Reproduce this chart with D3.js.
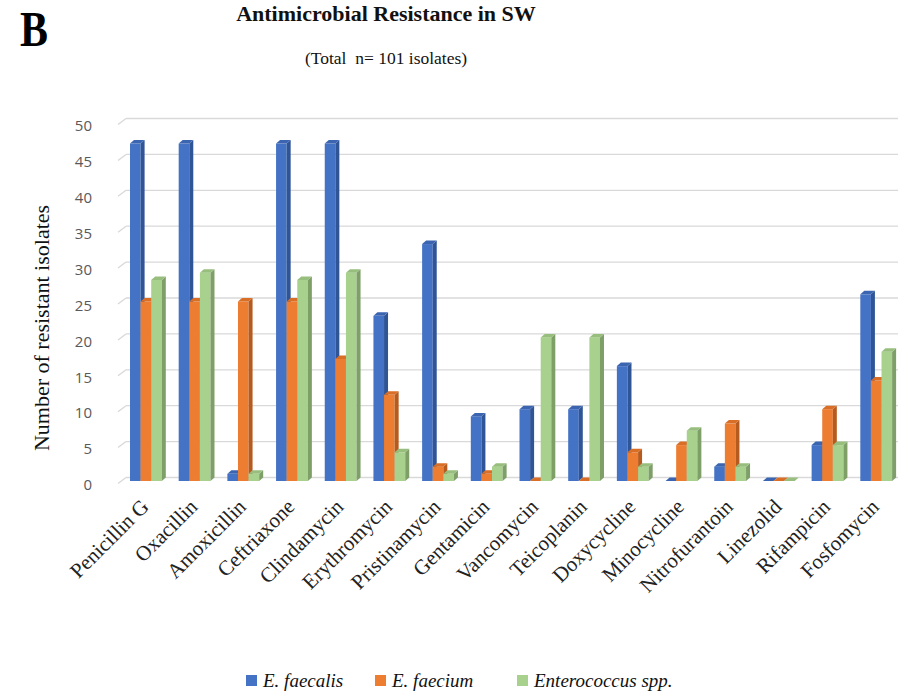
<!DOCTYPE html>
<html><head><meta charset="utf-8">
<script src="https://cdn.jsdelivr.net/npm/d3@7/dist/d3.min.js"></script>
<style>body{margin:0;background:#fff}svg{display:block}</style>
</head><body>
<svg id="chart" width="910" height="698"></svg>
<script>
const categories = ["Penicillin G","Oxacillin","Amoxicillin","Ceftriaxone","Clindamycin","Erythromycin","Pristinamycin","Gentamicin","Vancomycin","Teicoplanin","Doxycycline","Minocycline","Nitrofurantoin","Linezolid","Rifampicin","Fosfomycin"];
const seriesNames = ["E. faecalis","E. faecium","Enterococcus spp."];
const faecalis = [47,47,1,47,47,23,33,9,10,10,16,0,2,0,5,26];
const faecium  = [25,25,25,25,17,12,2,1,0,0,4,5,8,0,10,14];
const spp      = [28,29,1,28,29,4,1,2,20,20,2,7,2,0,5,18];
const yTicks = [0,5,10,15,20,25,30,35,40,45,50];

const seriesValues = [faecalis, faecium, spp];
const colors = [
  {front:"#4472C4", side:"#2F5597", top:"#3B65B0"},
  {front:"#ED7D31", side:"#B65B1F", top:"#D96E27"},
  {front:"#A9D18E", side:"#7E9F68", top:"#97BE7D"}
];

const svg = d3.select("#chart");
const DX = 4, DY = -3.5;

const y = d3.scaleLinear().domain([0,50]).range([481,122]);
const x = d3.scaleBand().domain(categories).range([121,900]).paddingInner(0).paddingOuter(0);
const groupOffset = 9, barW = 10.6;
const xs = d3.scaleBand().domain(seriesNames).range([0, barW*3]);

// gridlines (back wall) with slanted side-wall segments
const grid = svg.append("g");
yTicks.forEach(t => {
  const yy = y(t);
  grid.append("line").attr("x1",126).attr("x2",898).attr("y1",yy+DY).attr("y2",yy+DY)
    .attr("stroke","#d9d9d9").attr("stroke-width",1.3);
  grid.append("line").attr("x1",118).attr("x2",126).attr("y1",yy+2.5).attr("y2",yy+DY)
    .attr("stroke","#d9d9d9").attr("stroke-width",1.3);
});

// y tick labels
svg.append("g").selectAll("text").data(yTicks).join("text")
  .attr("x",92).attr("y",d=>y(d)+4).attr("dy","0.35em")
  .attr("text-anchor","end")
  .attr("font-family","'Open Sans','Liberation Sans',sans-serif").attr("font-size",15)
  .attr("fill","#595959").text(d=>d);

// bars
const bars = svg.append("g");
categories.forEach((c,i) => {
  seriesNames.forEach((s,k) => {
    const v = seriesValues[k][i];
    const x0 = x(c) + groupOffset + xs(s);
    const x1 = x0 + xs.bandwidth();
    const y0 = y(0), yt = y(v);
    const col = colors[k];
    if (v > 0) {
      bars.append("rect").attr("x",x0).attr("y",yt).attr("width",x1-x0).attr("height",y0-yt).attr("fill",col.front);
      bars.append("path").attr("d",`M${x1},${yt}L${x1+DX},${yt+DY}L${x1+DX},${y0+DY}L${x1},${y0}Z`).attr("fill",col.side);
    }
    bars.append("path").attr("d",`M${x0},${yt}L${x1},${yt}L${x1+DX},${yt+DY}L${x0+DX},${yt+DY}Z`).attr("fill",col.top);
  });
});

// x labels
svg.append("g").selectAll("text").data(categories).join("text")
  .attr("transform", d => `translate(${x(d)+groupOffset+barW*1.5+4},${508}) rotate(-45)`)
  .attr("text-anchor","end")
  .attr("font-family","'Liberation Serif','Times New Roman',serif").attr("font-size",21)
  .attr("fill","#222").text(d=>d);

// y axis title
svg.append("text").attr("transform","translate(49,328) rotate(-90)")
  .attr("text-anchor","middle")
  .attr("font-family","'Liberation Serif',serif").attr("font-size",22)
  .attr("fill","#111").text("Number of resistant isolates");

// titles
svg.append("text").attr("x",20).attr("y",46).attr("textLength",28).attr("lengthAdjust","spacingAndGlyphs")
  .attr("font-family","'Liberation Serif',serif").attr("font-weight","bold").attr("font-size",50)
  .attr("fill","#000").text("B");
svg.append("text").attr("x",386).attr("y",21).attr("text-anchor","middle")
  .attr("font-family","'Liberation Serif',serif").attr("font-weight","bold").attr("font-size",22)
  .attr("fill","#111").text("Antimicrobial Resistance in SW");
svg.append("text").attr("x",386).attr("y",64).attr("text-anchor","middle")
  .attr("font-family","'Liberation Serif',serif").attr("font-size",17.5).style("white-space","pre")
  .attr("fill","#111").text("(Total  n= 101 isolates)");

// legend
const legendX = [246, 375, 517];
const lg = svg.append("g").selectAll("g").data(seriesNames).join("g")
  .attr("transform",(d,i)=>`translate(${legendX[i]},0)`);
lg.append("rect").attr("x",0).attr("y",675).attr("width",11).attr("height",11).attr("fill",(d,i)=>colors[i].front);
lg.append("text").attr("x",17).attr("y",687)
  .attr("font-family","'Liberation Serif',serif").attr("font-style","italic").attr("font-size",19)
  .attr("fill","#111").text(d=>d);
</script>
</body></html>
